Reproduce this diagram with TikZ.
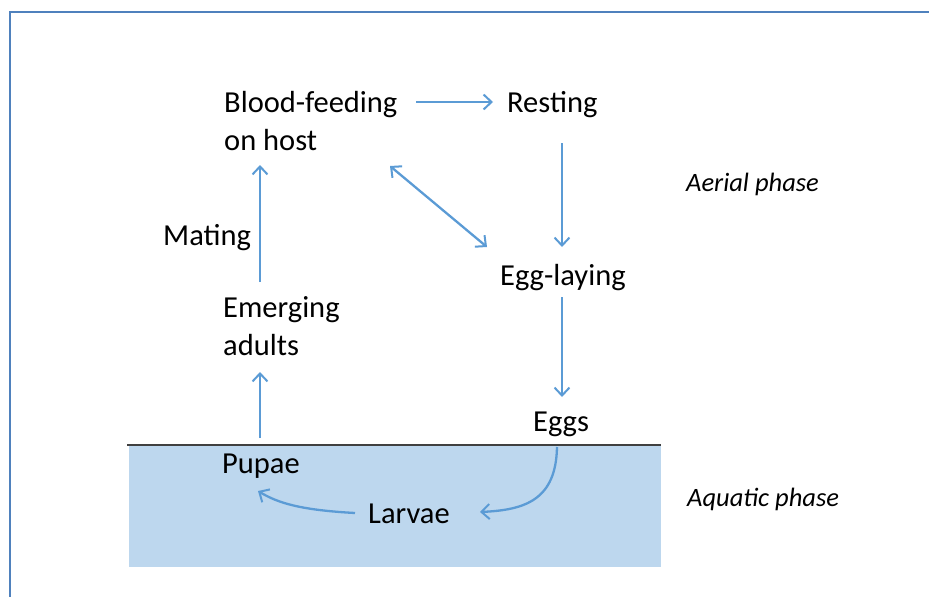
\documentclass[tikz,border=0pt]{standalone}
\usepackage{fontspec}
\setmainfont{Carlito}
\usetikzlibrary{arrows.meta,calc}
\definecolor{arrblue}{HTML}{5B9BD5}
\definecolor{water}{HTML}{BDD7EE}
\definecolor{frameblue}{HTML}{4F81BD}
\tikzset{
  lbl/.style={anchor=base west, inner sep=0pt, font=\fontsize{30.5}{38}\selectfont, align=left},
  phase/.style={anchor=base west, inner sep=0pt, font=\fontsize{26.5}{30}\selectfont\itshape},
  tipb/.tip={Straight Barb[length=8pt,width=15pt,line width=2pt]},
  arr/.style={draw=arrblue, line width=2.3pt, -tipb},
  dbl/.style={arr, tipb-tipb}
}
\begin{document}
\begin{tikzpicture}[x=1pt,y=-1pt]
\useasboundingbox (0,0) rectangle (929,597);
% frame
\draw[frameblue, line width=2.5pt] (10,597) -- (10,12) -- (929,12);
% water
\fill[water] (129,445) rectangle (661,567);
\draw[black!75, line width=1.2pt] (127,445) -- (661,445);
% labels
\node[lbl] (blood) at (224,150) {Blood-feeding\\on host};
\node[lbl] (rest) at (507,112) {Resting};
\node[lbl] (lay) at (500,285) {Egg-laying};
\node[lbl] (eggs) at (533,431) {Eggs};
\node[lbl] (larv) at (368,523) {Larvae};
\node[lbl] (pupa) at (222,473) {Pupae};
\node[lbl] (emer) at (223,355) {Emerging\\adults};
\node[lbl] (mate) at (163,245) {Mating};
\node[phase] (aer) at (686,191) {Aerial phase};
\node[phase] (aqu) at (687,506) {Aquatic phase};
% connectors
\draw[arr] ([shift={(192,-48)}]blood.base west) -- ([shift={(-14,-10)}]rest.base west);
\draw[arr] ([shift={(55,31)}]rest.base west) -- ([shift={(62,-38)}]lay.base west);
\draw[dbl] ([shift={(166,16)}]blood.base west) -- ([shift={(-13,-38)}]lay.base west);
\draw[arr] ([shift={(62,12)}]lay.base west) -- ([shift={(29,-34)}]eggs.base west);
\draw[arr] ([shift={(24,16)}]eggs.base west) .. controls +(-1,53) and +(45,-2) .. ([shift={(112,-11)}]larv.base west);
\draw[arr] ([shift={(-13,-10)}]larv.base west) .. controls +(-55,-3) and +(20,12) .. ([shift={(36,18)}]pupa.base west);
\draw[arr] ([shift={(38,-35)}]pupa.base west) -- ([shift={(37,17)}]emer.base west);
\draw[arr] ([shift={(37,-73)}]emer.base west) -- ([shift={(36,15)}]blood.base west);
\end{tikzpicture}
\end{document}
